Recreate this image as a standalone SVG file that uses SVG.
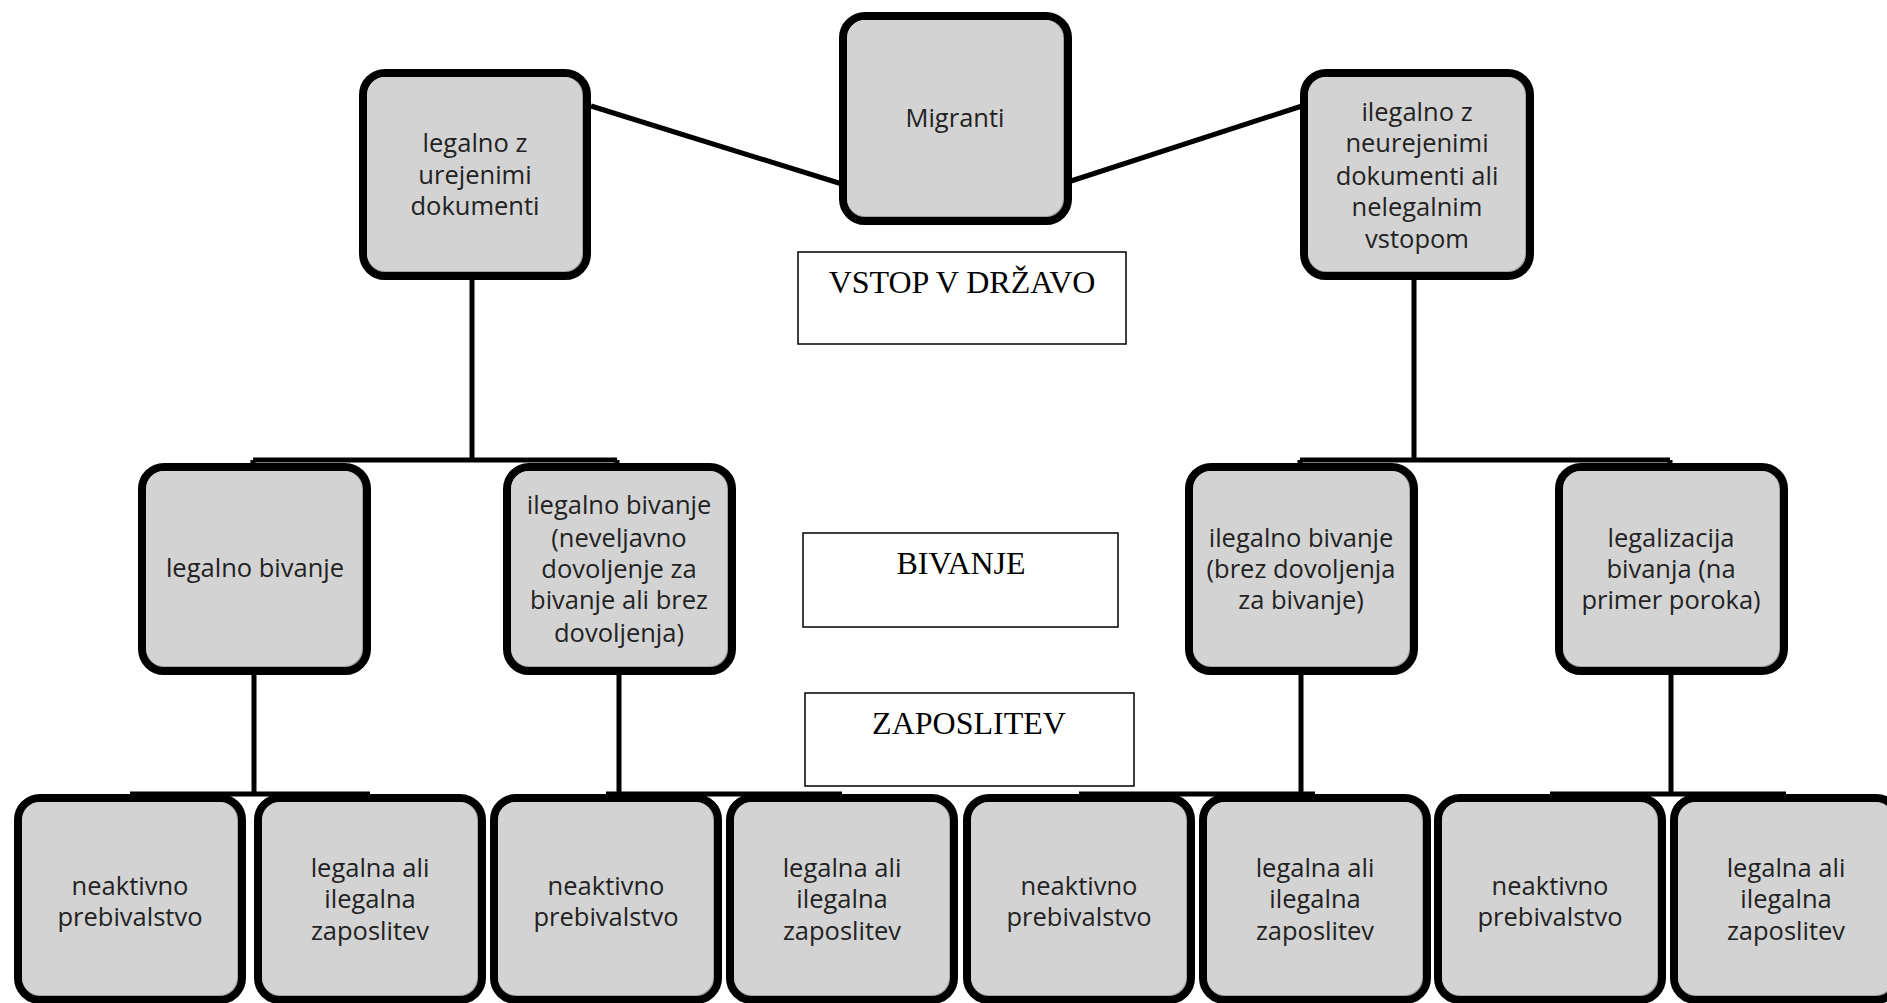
<svg xmlns="http://www.w3.org/2000/svg" width="1887" height="1003" viewBox="0 0 1887 1003">
<style>
.o{fill:#a4a4a4;stroke:#000;stroke-width:8}
.i{fill:#d3d3d3}
.t{font-family:"Open Sans",Lato,"Liberation Sans",sans-serif;font-size:25.5px;fill:#222;text-anchor:middle;font-variant-ligatures:none}
.lb{fill:#fff;stroke:#000;stroke-width:1.5}
.lt{font-family:"Liberation Serif","Times New Roman",serif;font-size:32px;fill:#000;text-anchor:middle}
.c{stroke:#000;stroke-width:5;fill:none}
</style>
<rect width="1887" height="1003" fill="#fff"/>
<g id="connectors">
<path class="c" d="M591 106L842 184M1071 181L1302 106"/>
<path class="c" d="M472 280V460M253 460H617M253 460V468M617 460V468"/>
<path class="c" d="M1414 280V460M1300 460H1670M1300 460V468M1670 460V468"/>
<path class="c" d="M254 675V794M130 794H370"/>
<path class="c" d="M619 675V794M606 794H842"/>
<path class="c" d="M1301 675V794M1079 794H1315"/>
<path class="c" d="M1671 675V794M1550 794H1786"/>
</g>
<g id="migranti"><rect class="o" x="843" y="16" width="225" height="205" rx="22"/><rect class="i" x="847" y="20" width="216" height="196" rx="18"/><text class="t" x="955" y="127">Migranti</text></g>
<g id="legalno-dok"><rect class="o" x="363" y="73" width="224" height="203" rx="22"/><rect class="i" x="367" y="77" width="215" height="194" rx="18"/><text class="t" x="475" y="152">legalno z</text><text class="t" x="475" y="184">urejenimi</text><text class="t" x="475" y="215">dokumenti</text></g>
<g id="ilegalno-dok"><rect class="o" x="1304" y="73" width="226" height="203" rx="22"/><rect class="i" x="1308" y="77" width="217" height="194" rx="18"/><text class="t" x="1417" y="121">ilegalno z</text><text class="t" x="1417" y="152">neurejenimi</text><text class="t" x="1417" y="185">dokumenti ali</text><text class="t" x="1417" y="216">nelegalnim</text><text class="t" x="1417" y="248">vstopom</text></g>
<g id="label-vstop"><rect class="lb" x="798" y="252" width="328" height="92"/><text class="lt" x="962" y="293">VSTOP V DRŽAVO</text></g>
<g id="label-bivanje"><rect class="lb" x="803" y="533" width="315" height="94"/><text class="lt" x="961" y="574">BIVANJE</text></g>
<g id="label-zaposlitev"><rect class="lb" x="805" y="693" width="329" height="93"/><text class="lt" x="969" y="734">ZAPOSLITEV</text></g>
<g id="legalno-bivanje"><rect class="o" x="142" y="467" width="225" height="204" rx="22"/><rect class="i" x="146" y="471" width="216" height="195" rx="18"/><text class="t" x="255" y="577">legalno bivanje</text></g>
<g id="ilegalno-bivanje-1"><rect class="o" x="507" y="467" width="225" height="204" rx="22"/><rect class="i" x="511" y="471" width="216" height="195" rx="18"/><text class="t" x="619" y="514">ilegalno bivanje</text><text class="t" x="619" y="547">(neveljavno</text><text class="t" x="619" y="578">dovoljenje za</text><text class="t" x="619" y="609">bivanje ali brez</text><text class="t" x="619" y="642">dovoljenja)</text></g>
<g id="ilegalno-bivanje-2"><rect class="o" x="1189" y="467" width="225" height="204" rx="22"/><rect class="i" x="1193" y="471" width="216" height="195" rx="18"/><text class="t" x="1301" y="547">ilegalno bivanje</text><text class="t" x="1301" y="578">(brez dovoljenja</text><text class="t" x="1301" y="609">za bivanje)</text></g>
<g id="legalizacija"><rect class="o" x="1559" y="467" width="225" height="204" rx="22"/><rect class="i" x="1563" y="471" width="216" height="195" rx="18"/><text class="t" x="1671" y="547">legalizacija</text><text class="t" x="1671" y="578">bivanja (na</text><text class="t" x="1671" y="609">primer poroka)</text></g>
<g id="b1"><rect class="o" x="18" y="798" width="224" height="202" rx="22"/><rect class="i" x="22" y="802" width="215" height="193" rx="18"/><text class="t" x="130" y="895">neaktivno</text><text class="t" x="130" y="926">prebivalstvo</text></g>
<g id="b2"><rect class="o" x="258" y="798" width="224" height="202" rx="22"/><rect class="i" x="262" y="802" width="215" height="193" rx="18"/><text class="t" x="370" y="877">legalna ali</text><text class="t" x="370" y="908">ilegalna</text><text class="t" x="370" y="940">zaposlitev</text></g>
<g id="b3"><rect class="o" x="494" y="798" width="224" height="202" rx="22"/><rect class="i" x="498" y="802" width="215" height="193" rx="18"/><text class="t" x="606" y="895">neaktivno</text><text class="t" x="606" y="926">prebivalstvo</text></g>
<g id="b4"><rect class="o" x="730" y="798" width="224" height="202" rx="22"/><rect class="i" x="734" y="802" width="215" height="193" rx="18"/><text class="t" x="842" y="877">legalna ali</text><text class="t" x="842" y="908">ilegalna</text><text class="t" x="842" y="940">zaposlitev</text></g>
<g id="b5"><rect class="o" x="967" y="798" width="224" height="202" rx="22"/><rect class="i" x="971" y="802" width="215" height="193" rx="18"/><text class="t" x="1079" y="895">neaktivno</text><text class="t" x="1079" y="926">prebivalstvo</text></g>
<g id="b6"><rect class="o" x="1203" y="798" width="224" height="202" rx="22"/><rect class="i" x="1207" y="802" width="215" height="193" rx="18"/><text class="t" x="1315" y="877">legalna ali</text><text class="t" x="1315" y="908">ilegalna</text><text class="t" x="1315" y="940">zaposlitev</text></g>
<g id="b7"><rect class="o" x="1438" y="798" width="224" height="202" rx="22"/><rect class="i" x="1442" y="802" width="215" height="193" rx="18"/><text class="t" x="1550" y="895">neaktivno</text><text class="t" x="1550" y="926">prebivalstvo</text></g>
<g id="b8"><rect class="o" x="1674" y="798" width="224" height="202" rx="22"/><rect class="i" x="1678" y="802" width="215" height="193" rx="18"/><text class="t" x="1786" y="877">legalna ali</text><text class="t" x="1786" y="908">ilegalna</text><text class="t" x="1786" y="940">zaposlitev</text></g>
</svg>
